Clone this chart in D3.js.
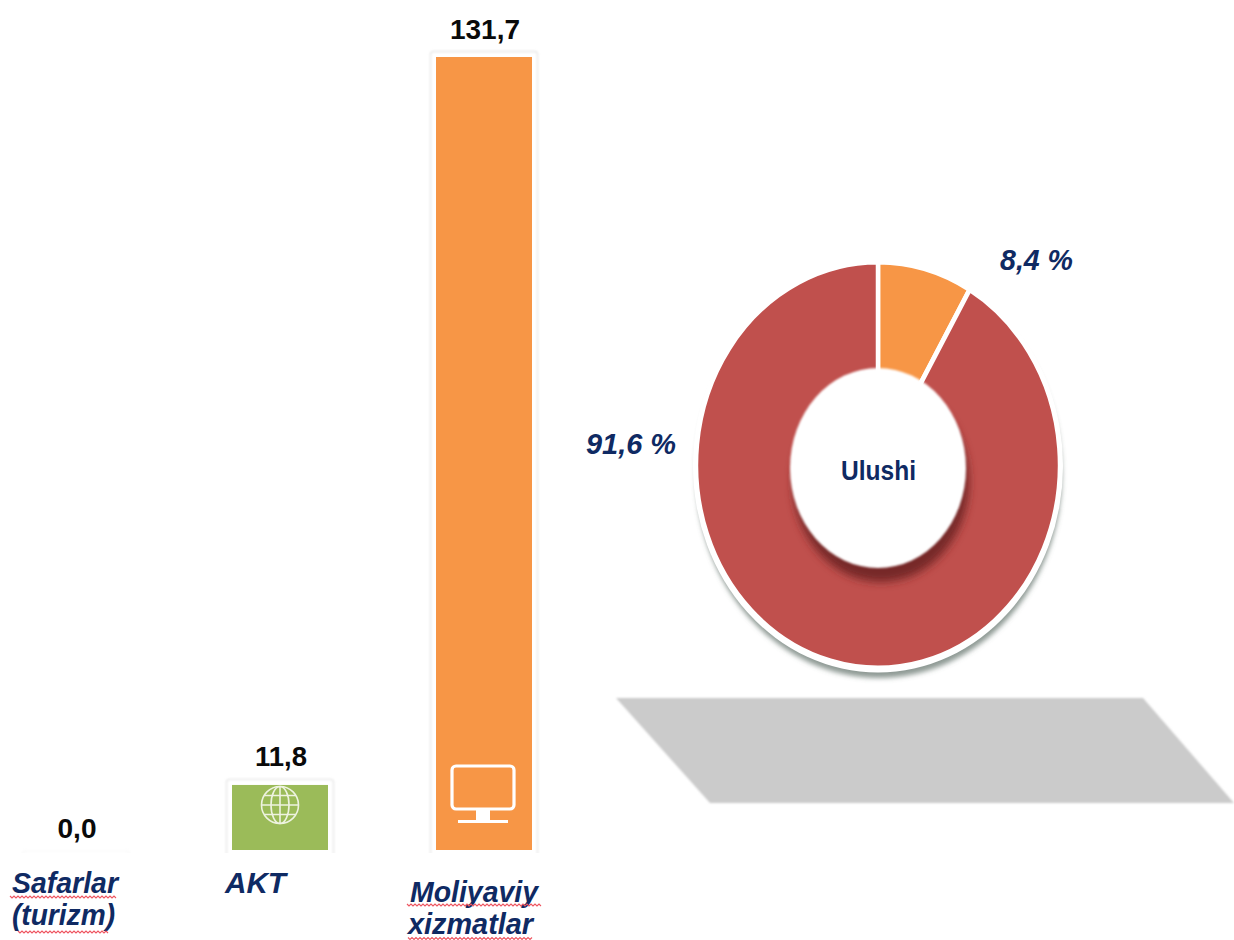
<!DOCTYPE html>
<html>
<head>
<meta charset="utf-8">
<script src="https://cdn.jsdelivr.net/npm/d3@7"></script>
<style>
html, body { margin: 0; padding: 0; background: #fff; }
svg { display: block; }
text { font-family: "Liberation Sans", Arial, sans-serif; font-weight: bold; }
</style>
</head>
<body>
<div id="chart"></div>
<script>
var categories = ["Safarlar (turizm)", "AKT", "Moliyaviy xizmatlar"];
var barValues = [0.0, 11.8, 131.7];
var barColors = ["#ffffff", "#9bbb59", "#f79646"];
var labelLines = [["Safarlar", "(turizm)"], ["AKT"], ["Moliyaviy", "xizmatlar"]];

var shareLabels = ["8,4 %", "91,6 %"];
var shareValues = [8.4, 91.6];
var shareColors = ["#f79646", "#c0504d"];

var width = 1234, height = 940;
var navy = "#0f2a63";
var baseline = 850, barWidth = 96;

var svg = d3.select("#chart").append("svg")
	.attr("width", width)
	.attr("height", height);

var defs = svg.append("defs");

function blur(id, dev) {
	defs.append("filter").attr("id", id)
		.attr("x", "-30%").attr("y", "-30%").attr("width", "160%").attr("height", "160%")
		.append("feGaussianBlur").attr("stdDeviation", dev);
}
blur("soft1", 0.8);
blur("soft2", 2.5);
blur("soft4", 4);

// the source picture is cut off just under the bars, so zero sits below the crop
defs.append("clipPath").attr("id", "barClip")
	.append("rect").attr("x", 0).attr("y", 0).attr("width", width).attr("height", baseline + 3);

var x = d3.scalePoint().domain(categories).range([76, 484]);
var y = d3.scaleLinear().domain([0, 131.7]).range([856.6, 57]);

// bars
var bars = svg.append("g").attr("clip-path", "url(#barClip)");

var bar = bars.selectAll("g").data(categories).enter().append("g");

bar.append("rect")
	.attr("x", function(d) { return x(d) - barWidth / 2 - 5.5; })
	.attr("y", function(d, i) { return y(barValues[i]) - 5.5; })
	.attr("width", barWidth + 11)
	.attr("height", function(d, i) { return 870 - y(barValues[i]); })
	.attr("rx", 3)
	.attr("fill", "#fff")
	.attr("stroke", "#dedede")
	.attr("stroke-opacity", function(d, i) { return barValues[i] > 0 ? 0.8 : 0.2; })
	.attr("stroke-width", 1.3)
	.attr("filter", "url(#soft1)");

bar.append("rect")
	.attr("x", function(d) { return x(d) - barWidth / 2; })
	.attr("y", function(d, i) { return y(barValues[i]); })
	.attr("width", barWidth)
	.attr("height", function(d, i) { return Math.max(0, baseline - y(barValues[i])); })
	.attr("fill", function(d, i) { return barColors[i]; });

// value labels
var fmt = function(v) { return d3.format(".1f")(v).replace(".", ","); };
var valueWidth = [39, 52, 70];
svg.append("g").selectAll("text").data(categories).enter().append("text")
	.attr("x", function(d) { return x(d) + 1; })
	.attr("y", function(d, i) { return y(barValues[i]) - 18.5; })
	.attr("text-anchor", "middle")
	.attr("font-size", 28)
	.attr("textLength", function(d, i) { return valueWidth[i]; })
	.attr("lengthAdjust", "spacingAndGlyphs")
	.attr("fill", "#0a0a0a")
	.text(function(d, i) { return fmt(barValues[i]); });

// category labels, one line at a time
var lineX = [[12, 12], [225], [410, 408]];
var lineY = [[893, 925], [893], [902, 933.8]];
var lineW = [[106, 103], [61], [128, 125]];
// spell check squiggle under the words: x from, x to, y
var squiggles = [[10, 118, 897], [18, 110, 932], [407, 542, 905], [408, 533, 938.5]];

var labels = svg.append("g");
labelLines.forEach(function(lines, i) {
	lines.forEach(function(line, j) {
		labels.append("text")
			.attr("x", lineX[i][j])
			.attr("y", lineY[i][j])
			.attr("font-size", 29)
			.attr("font-style", "italic")
			.attr("fill", navy)
			.attr("textLength", lineW[i][j])
			.attr("lengthAdjust", "spacingAndGlyphs")
			.text(line);
	});
});

squiggles.forEach(function(s) {
	var pts = d3.range(s[0], s[1], 2).map(function(px, k) {
		return [px, s[2] + (k % 2 ? 1 : -1)];
	});
	labels.append("path")
		.attr("d", d3.line()(pts))
		.attr("fill", "none")
		.attr("stroke", "#ee5560")
		.attr("stroke-width", 1.1);
});

// monitor icon on the orange bar
var monitor = svg.append("g")
	.attr("transform", "translate(" + x(categories[2]) + ",0)")
	.attr("fill", "none").attr("stroke", "#fff").attr("stroke-width", 3.2);
monitor.append("rect").attr("x", -32).attr("y", 766).attr("width", 62).attr("height", 43).attr("rx", 4);
monitor.append("rect").attr("x", -8).attr("y", 810).attr("width", 14).attr("height", 10).attr("fill", "#fff").attr("stroke", "none");
monitor.append("path").attr("d", "M-26,821.5H24");

// globe icon on the green bar
var globe = svg.append("g")
	.attr("transform", "translate(" + x(categories[1]) + ",805)")
	.attr("fill", "none").attr("stroke", "#eef3e0").attr("stroke-width", 1.6);
globe.append("circle").attr("r", 18.5);
globe.append("ellipse").attr("rx", 9).attr("ry", 18.5);
globe.append("path").attr("d", "M0,-18.5V18.5M-18.5,0H18.5M-15.5,-9.5H15.5M-15.5,9.5H15.5");

// floor shadow
svg.append("path")
	.attr("d", "M616,698H1143L1234,803H710Z")
	.attr("fill", "#cbcbcb")
	.attr("filter", "url(#soft1)");

// donut
var cx = 878, cy = 465, rx = 182, ry = 203;

svg.append("ellipse")
	.attr("cx", cx + 1).attr("cy", cy + 9)
	.attr("rx", rx + 1).attr("ry", ry + 1)
	.attr("fill", "#5f6f68").attr("fill-opacity", 0.7)
	.attr("filter", "url(#soft2)");

svg.append("ellipse")
	.attr("cx", cx).attr("cy", cy + 1)
	.attr("rx", rx + 3).attr("ry", ry + 3.5)
	.attr("fill", "#fff");

var pie = d3.pie().sort(null);
var arc = d3.arc().innerRadius(rx * 0.3).outerRadius(rx);

svg.append("g")
	.attr("transform", "translate(" + cx + "," + cy + ") scale(1," + (ry / rx) + ")")
	.selectAll("path").data(pie(shareValues)).enter().append("path")
	.attr("d", arc)
	.attr("fill", function(d, i) { return shareColors[i]; })
	.attr("stroke", "#fff")
	.attr("stroke-width", 4.5)
	.attr("stroke-linejoin", "round");

// hole with its shadow on the ring
svg.append("ellipse")
	.attr("cx", cx + 3).attr("cy", 482)
	.attr("rx", 88).attr("ry", 100)
	.attr("fill", "#6e2523").attr("fill-opacity", 0.9)
	.attr("filter", "url(#soft4)");

svg.append("ellipse")
	.attr("cx", cx).attr("cy", 468)
	.attr("rx", 88).attr("ry", 100)
	.attr("fill", "#fff")
	.attr("filter", "url(#soft1)");

svg.append("text")
	.attr("x", 878.5).attr("y", 480)
	.attr("text-anchor", "middle")
	.attr("font-size", 27)
	.attr("textLength", 75)
	.attr("lengthAdjust", "spacingAndGlyphs")
	.attr("fill", navy)
	.text("Ulushi");

// share labels
var sharePos = [[1000, 270], [586, 454]];
var shareWidth = [73, 90];
svg.append("g").selectAll("text").data(shareLabels).enter().append("text")
	.attr("x", function(d, i) { return sharePos[i][0]; })
	.attr("y", function(d, i) { return sharePos[i][1]; })
	.attr("font-size", 30)
	.attr("font-style", "italic")
	.attr("textLength", function(d, i) { return shareWidth[i]; })
	.attr("lengthAdjust", "spacingAndGlyphs")
	.attr("fill", navy)
	.text(function(d) { return d; });
</script>
</body>
</html>
